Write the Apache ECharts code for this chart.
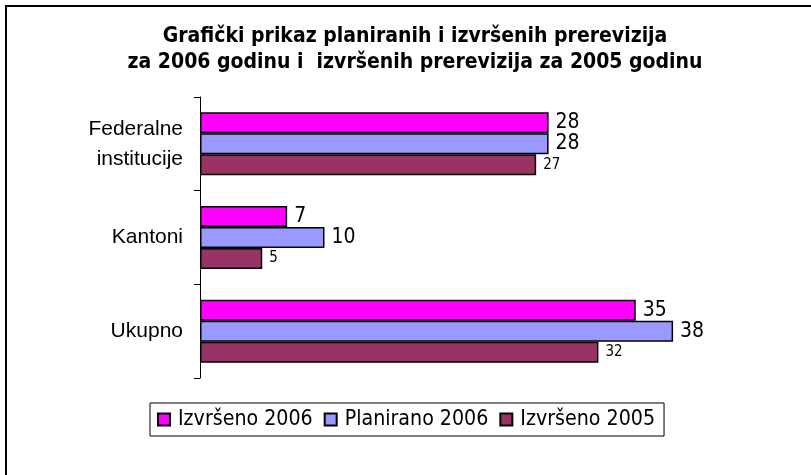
<!DOCTYPE html>
<html>
<head>
<meta charset="utf-8">
<script src="https://cdn.jsdelivr.net/npm/echarts@6/dist/echarts.min.js"></script>
<style>
html,body{margin:0;padding:0;background:#fff;}
#c{width:811px;height:475px;}
</style>
</head>
<body>
<div id="c"></div>
<script>
var categories = ['Federalne\ninstitucije', 'Kantoni', 'Ukupno'];
var seriesNames = ['Izvršeno 2006', 'Planirano 2006', 'Izvršeno 2005'];
var izvrseno2006 = [28, 7, 35];
var planirano2006 = [28, 10, 38];
var izvrseno2005 = [27, 5, 32];
var titleText = 'Grafički prikaz planiranih i izvršenih prerevizija\nza 2006 godinu i  izvršenih prerevizija za 2005 godinu';

var colors = ['#FF00FF', '#9999FF', '#993366'];
var numFont = 'DejaVu Sans Condensed, DejaVu Sans, sans-serif';
var values = [izvrseno2006, planirano2006, izvrseno2005];
var labelSizes = [21, 21, 15];

var chart = echarts.init(document.getElementById('c'), null, {renderer: 'canvas'});
chart.setOption({
  animation: false,
  backgroundColor: '#fff',
  title: {
    text: titleText,
    left: 410,
    top: 19,
    textAlign: 'center',
    textStyle: {
      fontFamily: numFont,
      fontWeight: 'bold',
      fontSize: 21,
      lineHeight: 26,
      color: '#000'
    }
  },
  graphic: [{
    type: 'rect',
    shape: {x: 6, y: 6, width: 900, height: 600},
    style: {fill: 'none', stroke: '#000', lineWidth: 2},
    silent: true
  }],
  legend: {
    left: 150,
    top: 403,
    padding: [6, 9, 6, 7],
    itemGap: 11,
    itemWidth: 12,
    itemHeight: 12,
    icon: 'rect',
    borderColor: '#000',
    borderWidth: 1,
    backgroundColor: '#fff',
    textStyle: {
      fontFamily: numFont,
      fontSize: 21.2,
      color: '#000',
      padding: [0, 0, 0, 3]
    },
    data: seriesNames
  },
  grid: {left: 200, right: 113, top: 97, bottom: 97, containLabel: false},
  xAxis: {
    type: 'value',
    min: 0,
    max: 40,
    show: false
  },
  yAxis: {
    type: 'category',
    data: categories,
    inverse: true,
    axisLine: {show: true, lineStyle: {color: '#000', width: 1}},
    axisTick: {show: true, length: 6, lineStyle: {color: '#000'}},
    axisLabel: {
      margin: 17,
      color: '#000',
      fontFamily: 'Liberation Sans, Arial, sans-serif',
      fontSize: 21,
      lineHeight: 30
    }
  },
  series: seriesNames.map(function (name, i) {
    return {
      name: name,
      type: 'bar',
      data: values[i],
      barWidth: 21,
      barGap: '0%',
      itemStyle: {color: colors[i], borderColor: '#000', borderWidth: 1.5},
      label: {
        show: true,
        position: 'right',
        distance: 7,
        color: '#000',
        fontFamily: numFont,
        fontSize: labelSizes[i]
      }
    };
  })
});
</script>
</body>
</html>
